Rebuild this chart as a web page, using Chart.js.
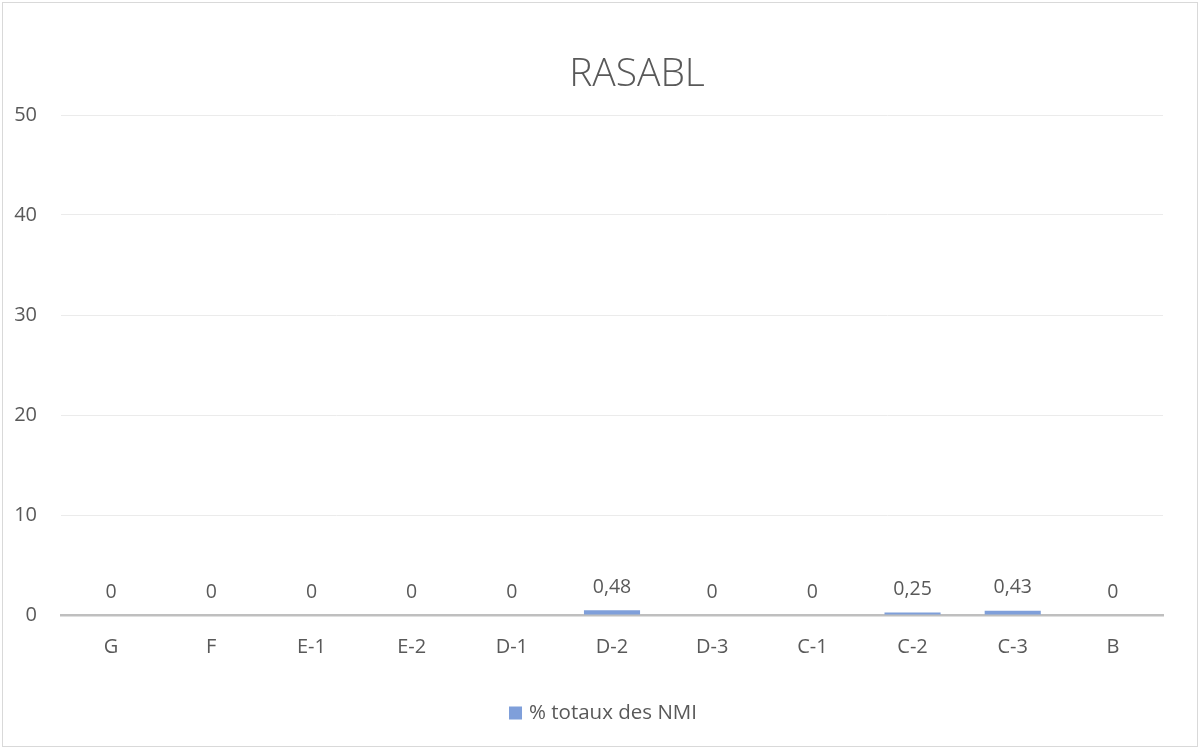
<!DOCTYPE html>
<html>
<head>
<meta charset="utf-8">
<script src="https://cdn.jsdelivr.net/npm/chart.js@4"></script>
<style>
    html, body { margin: 0; padding: 0; background: #fff; }
    #wrap {
        position: absolute;
        left: 2px; top: 2px;
        width: 1194px; height: 743px;
        border: 1px solid #d9d9d9;
    }
    canvas { display: block; }
</style>
</head>
<body>
<div id="wrap"><canvas id="chart" width="1194" height="743"></canvas></div>
<script>
// Chart values
const categories = ['G', 'F', 'E-1', 'E-2', 'D-1', 'D-2', 'D-3', 'C-1', 'C-2', 'C-3', 'B'];
const nmiValues = [0, 0, 0, 0, 0, 0.48, 0, 0, 0.25, 0.43, 0];
const yTicks = [0, 10, 20, 30, 40, 50];
const chartTitle = 'RASABL';
const seriesName = '% totaux des NMI';

const textColor = '#595959';
const barColor = '#7f9fda';
const fontFamily = '"Open Sans", sans-serif';

// Draws the value above each bar, French decimal comma
const barLabels = {
    id: 'barLabels',
    afterDatasetsDraw(chart) {
        const ctx = chart.ctx;
        const meta = chart.getDatasetMeta(0);
        ctx.save();
        ctx.fillStyle = textColor;
        ctx.font = '19.5px ' + fontFamily;
        ctx.textAlign = 'center';
        ctx.textBaseline = 'middle';
        meta.data.forEach((bar, i) => {
            const label = String(nmiValues[i]).replace('.', ',');
            ctx.fillText(label, bar.x, bar.y - 23);
        });
        ctx.restore();
    }
};

// Title and legend sit a little right of the canvas centre, like the original
const titleAndLegend = {
    id: 'titleAndLegend',
    afterDraw(chart) {
        const ctx = chart.ctx;
        ctx.save();
        ctx.fillStyle = textColor;
        ctx.font = '300 39px ' + fontFamily;
        ctx.textAlign = 'center';
        ctx.textBaseline = 'middle';
        ctx.fillText(chartTitle, 634, 72);

        // legend: one swatch + series name
        ctx.font = '20.5px ' + fontFamily;
        const textW = ctx.measureText(seriesName).width;
        const boxSize = 13;
        const gap = 7;
        const startX = 600 - (boxSize + gap + textW) / 2;
        const legendY = 710;
        ctx.fillStyle = barColor;
        ctx.fillRect(startX, legendY - boxSize / 2, boxSize, boxSize);
        ctx.fillStyle = textColor;
        ctx.textAlign = 'left';
        ctx.fillText(seriesName, startX + boxSize + gap, legendY);
        ctx.restore();
    }
};

const ctx = document.getElementById('chart').getContext('2d');
new Chart(ctx, {
    type: 'bar',
    data: {
        labels: categories,
        datasets: [{
            label: seriesName,
            data: nmiValues,
            backgroundColor: barColor,
            borderWidth: 0,
            categoryPercentage: 1,
            barPercentage: 0.56
        }]
    },
    options: {
        responsive: false,
        animation: false,
        layout: {
            padding: { left: 11, right: 34, top: 112, bottom: 53 }
        },
        scales: {
            x: {
                grid: { display: false, drawTicks: false },
                border: { color: '#bfbfbf', width: 2.5 },
                ticks: {
                    color: textColor,
                    padding: 20,
                    font: { family: fontFamily, size: 20 }
                },
                afterFit(scale) {
                    scale.height += 14;
                }
            },
            y: {
                min: 0,
                max: yTicks[yTicks.length - 1],
                afterBuildTicks(scale) {
                    scale.ticks = yTicks.map(v => ({ value: v }));
                },
                afterFit(scale) {
                    scale.width = 47;
                },
                grid: { color: '#ebebeb', lineWidth: 1, drawTicks: false },
                border: { display: false },
                ticks: {
                    color: textColor,
                    padding: 24,
                    font: { family: fontFamily, size: 20 }
                }
            }
        },
        plugins: {
            title: { display: false },
            legend: { display: false },
            tooltip: { enabled: false }
        }
    },
    plugins: [barLabels, titleAndLegend]
});
</script>
</body>
</html>
